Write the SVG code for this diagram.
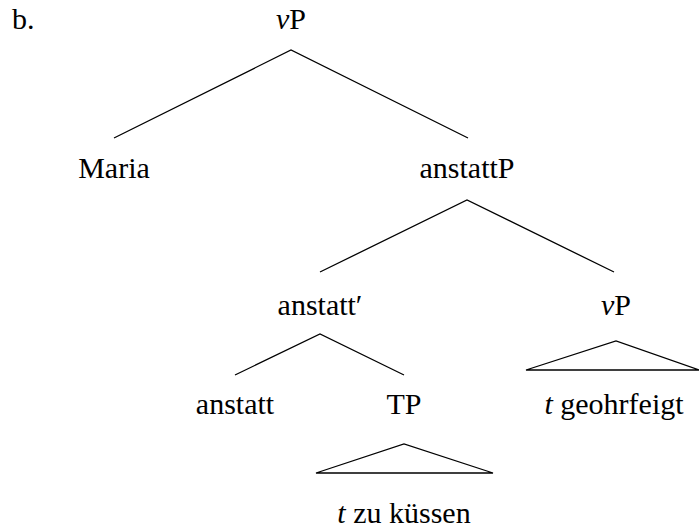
<svg xmlns="http://www.w3.org/2000/svg" width="699" height="529" viewBox="0 0 699 529">
<rect width="699" height="529" fill="#fff"/>
<g id="labels" font-family="Times New Roman, Liberation Serif, serif" font-size="30" fill="#000">
<text x="12" y="29">b.</text>
<g id="n-vP"><text x="291" y="29" text-anchor="middle"><tspan font-style="italic">v</tspan>P</text></g>
<g id="n-Maria"><text x="114" y="178" text-anchor="middle">Maria</text></g>
<g id="n-anstattP"><text x="467" y="178" text-anchor="middle">anstattP</text></g>
<g id="n-anstattbar"><text x="320" y="315" text-anchor="middle">anstatt′</text></g>
<g id="n-vP2"><text x="616" y="315" text-anchor="middle"><tspan font-style="italic">v</tspan>P</text></g>
<g id="n-anstatt"><text x="235" y="414" text-anchor="middle">anstatt</text></g>
<g id="n-TP"><text x="404" y="414" text-anchor="middle">TP</text></g>
<g id="n-geohrfeigt"><text x="614" y="414" text-anchor="middle"><tspan font-style="italic">t</tspan> geohrfeigt</text></g>
<g id="n-kuessen"><text x="404" y="523" text-anchor="middle"><tspan font-style="italic">t</tspan> zu küssen</text></g>
</g>
<g id="connectors" fill="none" stroke="#000" stroke-width="1.3">
<polyline points="114,138 291,50 468,138"/>
<polyline points="320,272 467,200 614,272"/>
<polyline points="235,375 320,334 404,375"/>
<polygon points="526,370 616,341 699,370"/>
<polygon points="316,473 404,444 493,473"/>
</g>
</svg>
